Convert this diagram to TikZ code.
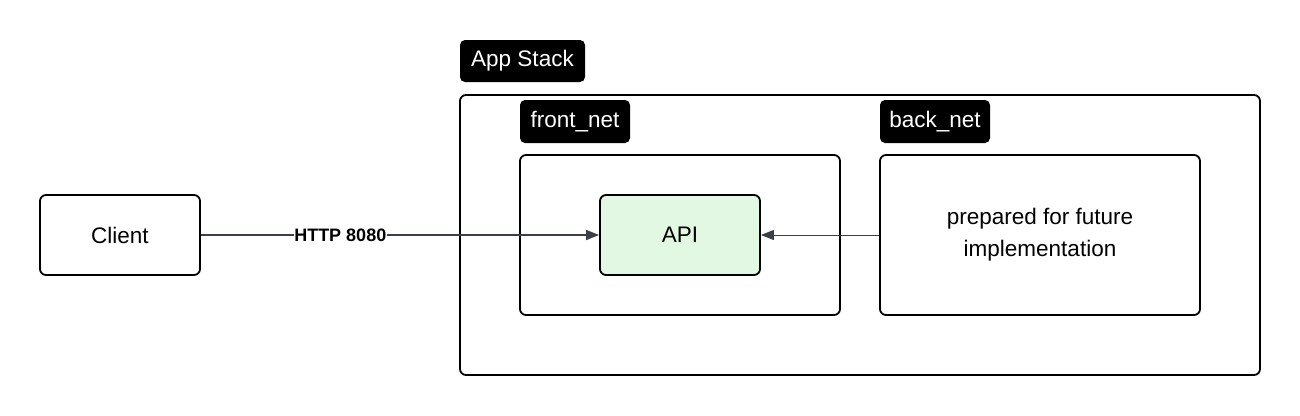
\documentclass[tikz,border=0pt]{standalone}
\usepackage{fontspec}
\setmainfont{Liberation Sans}
\usetikzlibrary{arrows.meta}
\definecolor{apigreen}{HTML}{E2F8E2}
\definecolor{linegray}{HTML}{3A3F4A}
\begin{document}
\begin{tikzpicture}[x=1pt,y=-1pt,
  box/.style={draw=black,line width=1.8pt,rounded corners=6pt},
  tag/.style={fill=black,text=white,rounded corners=5pt,inner sep=0pt,font=\fontsize{22.5}{26}\selectfont},
  txt/.style={font=\fontsize{22.5}{32}\selectfont,align=center},
  conn/.style={draw=linegray,-{Triangle[length=13pt,width=10pt]}}
]
\useasboundingbox (0,0) rectangle (1300,415);
% outer stack
\draw[box] (460,95) rectangle (1260,375);
\node[tag,minimum width=125pt,minimum height=42pt] (stacklbl) at (522.5,61) {App Stack};
% front_net
\draw[box] (520,155) rectangle (840,315);
\node[tag,minimum width=110pt,minimum height=43pt] (frontlbl) at (575,121.5) {front\_net};
% back_net
\node[box,minimum width=320pt,minimum height=160pt,txt] (back) at (1040,235) {prepared for future\\implementation};
\node[tag,minimum width=110pt,minimum height=43pt] (backlbl) at (935,121.5) {back\_net};
% client
\node[box,minimum width=160pt,minimum height=80pt,txt] (client) at (120,235) {Client};
% api
\node[box,fill=apigreen,minimum width=160pt,minimum height=80pt,txt] (api) at (680,235) {API};
% connectors
\draw[conn,line width=1.5pt] (client.east) -- node[pos=0.35,fill=white,inner sep=0.5pt,font=\bfseries\fontsize{18}{21}\selectfont] {HTTP 8080} (api.west);
\draw[conn,line width=0.9pt] (back.west) -- (api.east);
\end{tikzpicture}
\end{document}
